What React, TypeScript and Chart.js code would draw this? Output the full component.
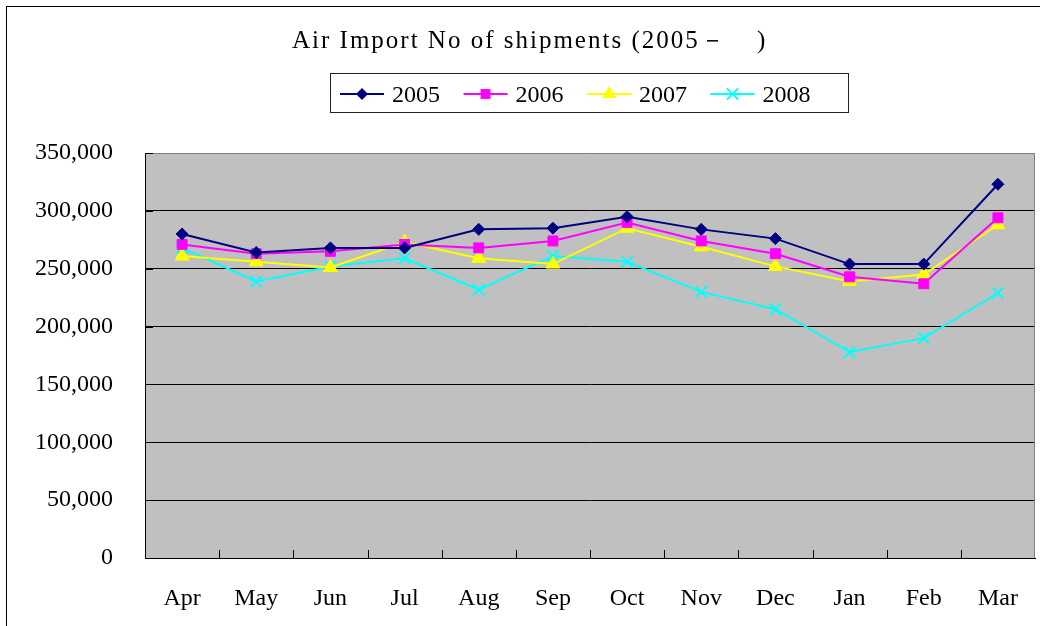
import React, { useEffect, useRef } from 'react';
import { Chart, registerables } from 'chart.js';

Chart.register(...registerables);

const TITLE_MAIN = 'Air Import No of shipments (2005－';
const TITLE_END = ')';

const months = ['Apr', 'May', 'Jun', 'Jul', 'Aug', 'Sep', 'Oct', 'Nov', 'Dec', 'Jan', 'Feb', 'Mar'];

const seriesNames = ['2005', '2006', '2007', '2008'];
const values2005 = [280000, 264000, 268000, 268000, 284000, 285000, 295000, 284000, 276000, 254000, 254000, 323000];
const values2006 = [271000, 263000, 265000, 271000, 268000, 274000, 290000, 274000, 263000, 243000, 237000, 294000];
const values2007 = [261000, 256000, 251000, 273000, 259000, 254000, 285000, 269000, 252000, 239000, 245000, 288000];
const values2008 = [268000, 239000, 252000, 259000, 232000, 261000, 256000, 230000, 215000, 178000, 190000, 229000];

const yMin = 0;
const yMax = 350000;
const yStep = 50000;

const seriesColors = ['#000080', '#ff00ff', '#ffff00', '#00ffff'];
const seriesMarkers = ['rectRot', 'rect', 'triangle', 'crossRot'];
const markerRadius = [6, 7, 8, 8];

const FONT = "'Liberation Serif', 'DejaVu Serif', serif";

function drawMarker(ctx: CanvasRenderingContext2D, style: string, x: number, y: number, r: number, color: string) {
  ctx.save();
  ctx.fillStyle = color;
  ctx.strokeStyle = color;
  ctx.lineWidth = 2;
  ctx.beginPath();
  if (style === 'rectRot') {
    ctx.moveTo(x - r, y);
    ctx.lineTo(x, y - r);
    ctx.lineTo(x + r, y);
    ctx.lineTo(x, y + r);
    ctx.closePath();
    ctx.fill();
  } else if (style === 'rect') {
    const s = r * Math.SQRT1_2;
    ctx.rect(x - s, y - s, 2 * s, 2 * s);
    ctx.fill();
  } else if (style === 'triangle') {
    const w = r * Math.sqrt(3) / 2;
    ctx.moveTo(x, y - r);
    ctx.lineTo(x + w, y + r / 2);
    ctx.lineTo(x - w, y + r / 2);
    ctx.closePath();
    ctx.fill();
  } else {
    const d = r * Math.SQRT1_2;
    ctx.moveTo(x - d, y - d);
    ctx.lineTo(x + d, y + d);
    ctx.moveTo(x + d, y - d);
    ctx.lineTo(x - d, y + d);
    ctx.stroke();
  }
  ctx.restore();
}

const decorPlugin = {
  id: 'decor',
  beforeDraw(chart: any) {
    const { ctx, chartArea: a } = chart;
    ctx.save();
    ctx.fillStyle = '#c0c0c0';
    ctx.fillRect(a.left, a.top, a.right - a.left, a.bottom - a.top);
    ctx.restore();
  },
  beforeDatasetsDraw(chart: any) {
    const { ctx, chartArea: a, scales } = chart;
    ctx.save();
    ctx.lineWidth = 1;
    ctx.strokeStyle = '#808080';
    ctx.beginPath();
    ctx.moveTo(a.left, Math.round(a.top) + 0.5);
    ctx.lineTo(Math.round(a.right) - 0.5, Math.round(a.top) + 0.5);
    ctx.lineTo(Math.round(a.right) - 0.5, a.bottom);
    ctx.stroke();
    ctx.strokeStyle = '#000';
    ctx.beginPath();
    const y = scales.y;
    for (let v = yMin; v <= yMax; v += yStep) {
      const yy = Math.round(y.getPixelForValue(v)) + 0.5;
      ctx.moveTo(a.left, yy);
      ctx.lineTo(a.left + 8, yy);
    }
    const x = scales.x;
    for (let i = 0; i < months.length - 1; i++) {
      const xx = Math.round((x.getPixelForValue(i) + x.getPixelForValue(i + 1)) / 2) + 0.5;
      ctx.moveTo(xx, a.bottom);
      ctx.lineTo(xx, a.bottom - 8);
    }
    ctx.stroke();
    ctx.restore();
  },
  afterDraw(chart: any) {
    const { ctx } = chart;
    ctx.save();
    // title
    ctx.fillStyle = '#000';
    ctx.font = `25px ${FONT}`;
    ctx.textAlign = 'left';
    ctx.textBaseline = 'alphabetic';
    try { (ctx as any).letterSpacing = '2px'; } catch (e) { /* ignore */ }
    ctx.fillText(TITLE_MAIN, 285, 41);
    ctx.fillText(TITLE_END, 750, 41);
    try { (ctx as any).letterSpacing = '0px'; } catch (e) { /* ignore */ }
    // legend
    ctx.strokeStyle = '#222';
    ctx.lineWidth = 1;
    ctx.strokeRect(323.5, 66.5, 518, 39);
    ctx.font = `24px ${FONT}`;
    ctx.textBaseline = 'alphabetic';
    seriesNames.forEach((name, i) => {
      const x0 = 333 + i * 123.5;
      const ly = 87;
      ctx.strokeStyle = seriesColors[i];
      ctx.lineWidth = 2;
      ctx.beginPath();
      ctx.moveTo(x0, ly);
      ctx.lineTo(x0 + 44, ly);
      ctx.stroke();
      drawMarker(ctx, seriesMarkers[i], x0 + 22, ly, markerRadius[i], seriesColors[i]);
      ctx.fillStyle = '#000';
      ctx.fillText(name, x0 + 52, 94.5);
    });
    ctx.restore();
  },
};

export default function App() {
  const canvasRef = useRef<HTMLCanvasElement | null>(null);

  useEffect(() => {
    const canvas = canvasRef.current;
    if (!canvas) return;
    const allValues = [values2005, values2006, values2007, values2008];
    const chart = new Chart(canvas, {
      type: 'line',
      data: {
        labels: months,
        datasets: seriesNames.map((name, i) => ({
          label: name,
          data: allValues[i],
          borderColor: seriesColors[i],
          backgroundColor: seriesColors[i],
          borderWidth: 2,
          pointStyle: seriesMarkers[i] as any,
          pointRadius: markerRadius[i],
          pointHoverRadius: markerRadius[i],
          pointBorderWidth: i === 3 ? 2 : 1,
          pointBackgroundColor: seriesColors[i],
          pointBorderColor: seriesColors[i],
          tension: 0,
          fill: false,
        })),
      },
      options: {
        responsive: false,
        animation: false,
        events: [],
        layout: { autoPadding: false, padding: { top: 146, left: 0, right: 5, bottom: 0 } },
        plugins: {
          legend: { display: false },
          title: { display: false },
          tooltip: { enabled: false },
        },
        scales: {
          x: {
            type: 'category',
            offset: true,
            grid: { display: false, drawTicks: false },
            border: { display: true, color: '#000', width: 1 },
            ticks: {
              autoSkip: false,
              maxRotation: 0,
              padding: 26,
              color: '#000',
              font: { family: FONT, size: 24 },
            },
            afterFit: (s: any) => { s.height = 68; s.paddingLeft = 0; s.paddingRight = 0; },
          },
          y: {
            min: yMin,
            max: yMax,
            grid: {
              drawTicks: false,
              color: (c: any) => (c.tick && (c.tick.value === yMin || c.tick.value === yMax)) ? 'rgba(0,0,0,0)' : '#000',
              lineWidth: 1,
            },
            border: { display: true, color: '#000', width: 1 },
            ticks: {
              stepSize: yStep,
              padding: 32,
              color: '#000',
              font: { family: FONT, size: 24 },
              callback: (v: any) => Number(v).toLocaleString('en-US'),
            },
            afterFit: (s: any) => { s.width = 138; s.paddingTop = 0; s.paddingBottom = 0; },
          },
        },
      },
      plugins: [decorPlugin],
    });
    return () => chart.destroy();
  }, []);

  return (
    <div style={{ position: 'fixed', left: 0, top: 0, width: 1040, height: 626, overflow: 'hidden', background: '#fff' }}>
      <div style={{ position: 'absolute', left: 6, top: 6, width: 1100, height: 700, border: '1px solid #000' }}>
        <canvas ref={canvasRef} width={1033} height={619} style={{ display: 'block' }} />
      </div>
    </div>
  );
}
